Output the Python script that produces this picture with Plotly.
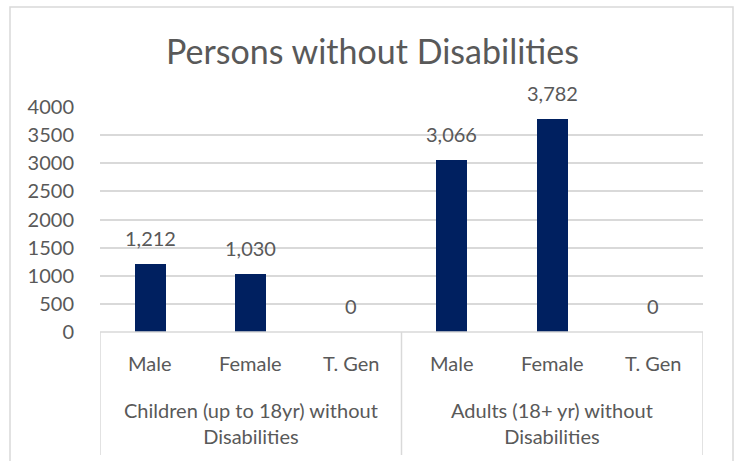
import plotly.graph_objects as go

title = "Persons without Disabilities"
groups = ["Children (up to 18yr) without<br>Disabilities", "Adults (18+ yr) without<br>Disabilities"]
genders = ["Male", "Female", "T. Gen"]
children_values = [1212, 1030, 0]
adult_values = [3066, 3782, 0]

values = children_values + adult_values
cats = genders + genders
xs = list(range(len(values)))

FONT = "Lato, Calibri, sans-serif"
TXT = "#595959"
GRID = "#d9d9d9"
BAR = "#002060"

fig = go.Figure()
fig.add_trace(go.Bar(x=xs, y=values, width=0.31, marker=dict(color=BAR, line=dict(width=0)),
                     hoverinfo="skip"))

L, R, T, B = 100, 36, 107, 129
W, H = 739, 461
pw = W - L - R
ph = H - T - B

def py(pix):
    return (H - B - pix) / ph

def px(pix):
    return (pix - L) / pw

annotations = []
for x, v in zip(xs, values):
    annotations.append(dict(x=x, y=v, xref="x", yref="y", text=f"{v:,}", showarrow=False,
                            yanchor="bottom", yshift=12, font=dict(size=20, color=TXT, family=FONT)))
for x, c in zip(xs, cats):
    annotations.append(dict(x=x, y=py(363), xref="x", yref="paper", text=c, showarrow=False,
                            yanchor="middle", font=dict(size=20, color=TXT, family=FONT)))
for gi, g in enumerate(groups):
    annotations.append(dict(x=gi * 3 + 1, y=py(423), xref="x", yref="paper", text=g, showarrow=False,
                            yanchor="middle", font=dict(size=20, color=TXT, family=FONT)))

shapes = []
# category axis line and dividers
shapes.append(dict(type="line", xref="x", yref="paper", x0=-0.5, x1=5.5, y0=0, y1=0,
                   line=dict(color=GRID, width=1.5)))
for xd in [-0.5, 2.5, 5.5]:
    shapes.append(dict(type="line", xref="x", yref="paper", x0=xd, x1=xd, y0=0, y1=py(455),
                       line=dict(color=GRID, width=1.5)))
# outer chart border
shapes.append(dict(type="rect", xref="paper", yref="paper", x0=px(10), x1=px(733), y0=py(470), y1=py(7),
                   line=dict(color=GRID, width=1.5), layer="below"))

fig.update_layout(
    width=W, height=H,
    margin=dict(l=L, r=R, t=T, b=B),
    paper_bgcolor="white", plot_bgcolor="white",
    title=dict(text=title, x=(165 + 580) / 2 / W, xref="container", y=1 - 52 / H, yref="container",
               xanchor="center", yanchor="middle", font=dict(size=34, color=TXT, family=FONT)),
    showlegend=False,
    bargap=0,
    annotations=annotations,
    shapes=shapes,
    font=dict(family=FONT, color=TXT),
)
fig.update_xaxes(range=[-0.5, 5.5], showticklabels=False, showgrid=False, zeroline=False,
                 showline=False, fixedrange=True)
fig.update_yaxes(range=[0, 4000], dtick=500, tick0=0, showgrid=True, gridcolor=GRID, gridwidth=1.5,
                 zeroline=False, showline=False, ticks="outside", tickcolor="rgba(0,0,0,0)", ticklen=21,
                 tickfont=dict(size=20, color=TXT, family=FONT), fixedrange=True)

fig.write_html("out.html")
